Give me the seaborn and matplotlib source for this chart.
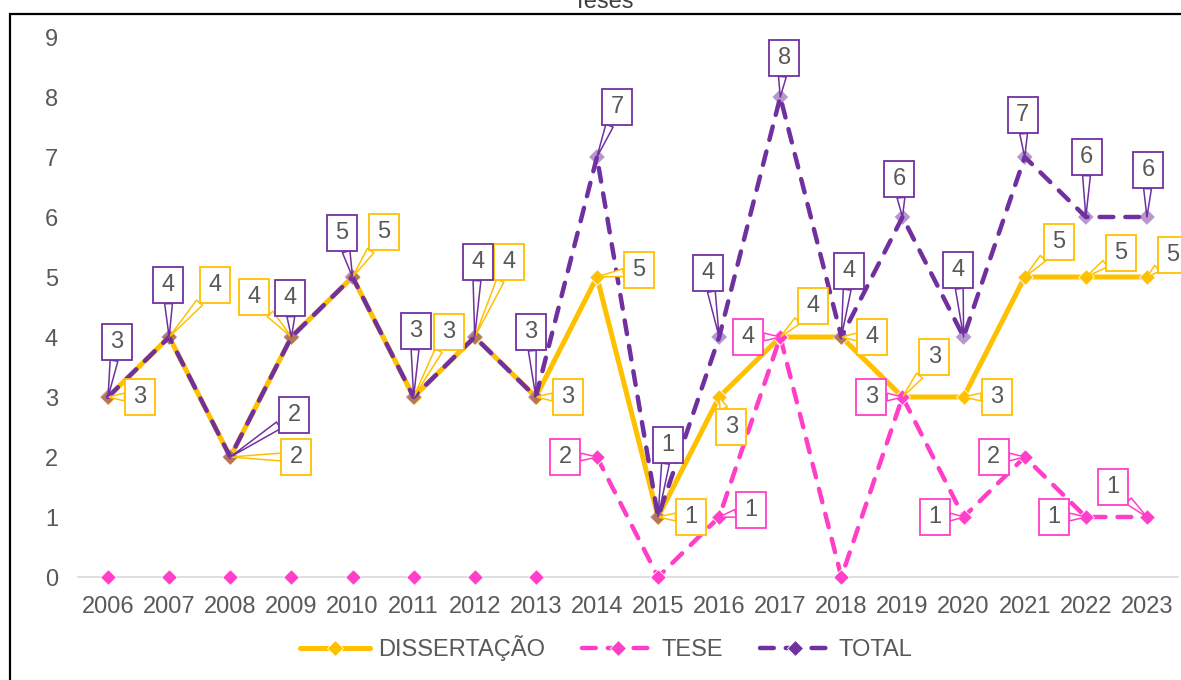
import numpy as np
import pandas as pd
import matplotlib
matplotlib.use("Agg")
import matplotlib.pyplot as plt
import seaborn as sns
from matplotlib.lines import Line2D
from matplotlib.patches import Rectangle
from matplotlib.path import Path

# ---------------- data ----------------
years = [str(y) for y in range(2006, 2024)]
dissertacao = [3, 4, 2, 4, 5, 3, 4, 3, 5, 1, 3, 4, 4, 3, 3, 5, 5, 5]
tese = [0, 0, 0, 0, 0, 0, 0, 0, 2, 0, 1, 4, 0, 3, 1, 2, 1, 1]
total = [3, 4, 2, 4, 5, 3, 4, 3, 7, 1, 4, 8, 4, 6, 4, 7, 6, 6]
series_names = ["DISSERTAÇÃO", "TESE", "TOTAL"]
title_text = "Teses"
tese_line_from = "2014"

# ---------------- layout of data-label callouts (pixel offsets) ----------------
off_diss = [(32, 0), (46, 52), (66, 0), (-37, 40), (31, 45), (35, 65), (34, 75),
            (32, 0), (42, 7), (33, 0), (12, -30), (33, 31), (31, 0), (32, 40),
            (33, 0), (34, 35), (35, 24), (26, 22)]
off_tese = {8: (-32, 0), 10: (32, 7), 11: (-32, 0), 13: (-31, 0), 14: (-29, 0),
            15: (-31, 0), 16: (-32, 0), 17: (-34, 30)}
off_total = [(9, 55), (-1, 52), (64, 42), (-1, 39), (-11, 44), (2, 66), (3, 75),
             (-5, 65), (20, 50), (10, 72), (-11, 64), (4, 39), (8, 66), (-3, 38),
             (-6, 67), (-2, 42), (1, 60), (1, 47)]

GOLD = "#FFC000"
PINK = "#FF3FC8"
PURPLE = "#7030A0"
TXT = "#595959"
AXIS = "#D9D9D9"
FS = 17

sns.set_style("white")
plt.rcParams["font.family"] = ["Liberation Sans", "DejaVu Sans"]

W, H = 1181, 680
fig = plt.figure(figsize=(W / 100, H / 100), dpi=100)
ax = fig.add_axes([77.5 / W, 1 - 577 / H, 1100 / W, 540 / H])

idx = np.arange(len(years))
df = pd.DataFrame({"x": idx, "year": years, "DISSERTAÇÃO": dissertacao,
                   "TESE": tese, "TOTAL": total})

DASH = (0, (3.1, 2.7))

# DISSERTAÇÃO solid line
sns.lineplot(data=df, x="x", y="DISSERTAÇÃO", ax=ax, color=GOLD, linewidth=3.6,
             solid_capstyle="round", solid_joinstyle="round", zorder=2, legend=False)
sns.scatterplot(data=df, x="x", y="DISSERTAÇÃO", ax=ax, color=GOLD, marker="D",
                s=64, edgecolor="white", linewidth=0.6, zorder=2.1, clip_on=False,
                legend=False)

# TESE dashed line (line only from 2014 on), markers everywhere
start = years.index(tese_line_from)
sns.lineplot(data=df[df["x"] >= start], x="x", y="TESE", ax=ax, color=PINK,
             linewidth=3.2, zorder=3, legend=False)
ax.lines[-1].set_linestyle(DASH)
ax.lines[-1].set_dash_capstyle("round")
sns.scatterplot(data=df, x="x", y="TESE", ax=ax, color=PINK, marker="D", s=64,
                edgecolor="white", linewidth=0.6, zorder=3.1, clip_on=False, legend=False)

# TOTAL dashed line
sns.lineplot(data=df, x="x", y="TOTAL", ax=ax, color=PURPLE, linewidth=3.2,
             zorder=4, legend=False)
ax.lines[-1].set_linestyle(DASH)
ax.lines[-1].set_dash_capstyle("round")
sns.scatterplot(data=df, x="x", y="TOTAL", ax=ax, color=PURPLE, marker="D", s=64,
                edgecolor="none", alpha=0.5, zorder=4.1, clip_on=False, legend=False)


def callout_box(x0, y0, width, height, mutation_size):
    s = mutation_size / (FS * 100 / 72)
    cx, cy = x0 + width / 2, y0 + height / 2
    w, h = 30 * s, 36 * s
    return Path([(cx - w / 2, cy - h / 2), (cx + w / 2, cy - h / 2),
                 (cx + w / 2, cy + h / 2), (cx - w / 2, cy + h / 2),
                 (cx - w / 2, cy - h / 2)], closed=True)


def label(i, v, off, color):
    ax.annotate(str(v), xy=(i, v), xytext=off, textcoords="offset pixels",
                ha="center", va="center", fontsize=FS, color=TXT, zorder=6,
                annotation_clip=False,
                bbox=dict(boxstyle=callout_box, fc="white", ec=color, lw=1.3),
                arrowprops=dict(arrowstyle="wedge,tail_width=0.33,shrink_factor=0.5",
                                fc="white", ec=color, lw=1.1, shrinkA=0, shrinkB=0))


for i, v in enumerate(dissertacao):
    label(i, v, off_diss[i], GOLD)
for i, v in enumerate(tese):
    if v > 0:
        label(i, v, off_tese[i], PINK)
for i, v in enumerate(total):
    label(i, v, off_total[i], PURPLE)

# axes styling
ax.set_xlim(-0.5, len(years) - 0.5)
ax.set_ylim(0, 9)
ax.set_xticks(idx)
ax.set_xticklabels(years)
ax.set_xticks(np.arange(-0.5, len(years), 1), minor=True)
ax.set_yticks(range(0, 10))
ax.set_xlabel("")
ax.set_ylabel("")
ax.tick_params(axis="x", which="major", length=0, pad=14, labelsize=FS, labelcolor=TXT)
ax.tick_params(axis="x", which="minor", length=6, width=1.2, color=AXIS, direction="out")
ax.tick_params(axis="y", length=0, pad=14, labelsize=FS, labelcolor=TXT)
for sp in ["left", "top", "right"]:
    ax.spines[sp].set_visible(False)
ax.spines["bottom"].set_color(AXIS)
ax.spines["bottom"].set_linewidth(1.2)
ax.grid(False)

# legend
handles = [
    Line2D([0], [0], color=GOLD, lw=3.6, marker="D", markersize=8,
           markerfacecolor=GOLD, markeredgecolor="white", markeredgewidth=0.6,
           solid_capstyle="round"),
    Line2D([0], [0], color=PINK, lw=3.2, ls=DASH, dash_capstyle="round",
           marker="D", markersize=8, markerfacecolor=PINK, markeredgecolor="white",
           markeredgewidth=0.6),
    Line2D([0], [0], color=PURPLE, lw=3.2, ls=DASH, dash_capstyle="round",
           marker="D", markersize=8, markerfacecolor=PURPLE, markeredgecolor="white",
           markeredgewidth=0.6),
]
fig.legend(handles, series_names, loc="center", bbox_to_anchor=(606 / W, 1 - 648 / H),
           ncol=3, frameon=False, fontsize=FS, handlelength=3.0, handletextpad=0.35,
           columnspacing=1.55, labelcolor=TXT)

# outer chart border and clipped title (cut by the image edge as in the reference)
fig.patches.append(Rectangle((10 / W, -0.2), 1.2, 1 - 14 / H + 0.2,
                             transform=fig.transFigure, fill=False, ec="black",
                             lw=1.6, zorder=0))
fig.text(603 / W, 1 - 8 / H, title_text, ha="center", va="baseline", fontsize=FS,
         color="#404040")

fig.savefig("out.png", dpi=100)
